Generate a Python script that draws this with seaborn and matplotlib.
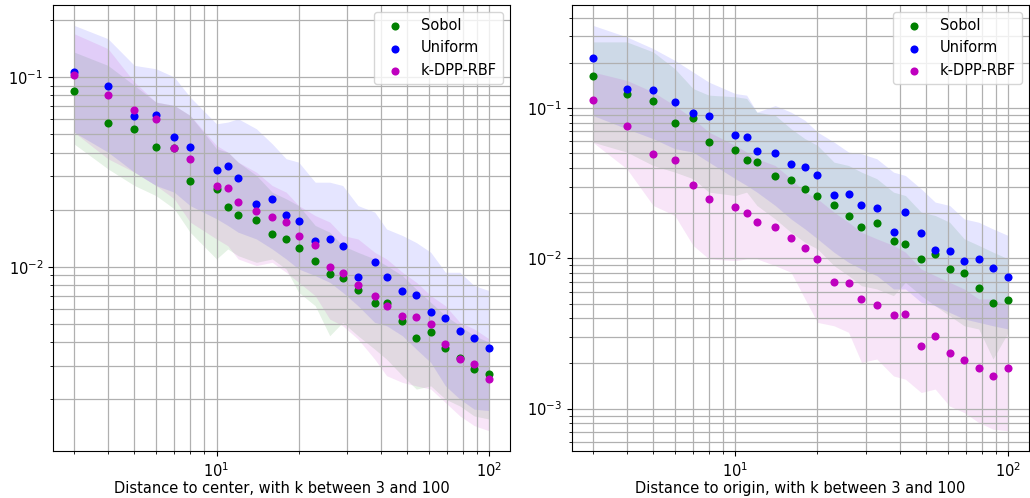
import matplotlib
matplotlib.use('Agg')
import matplotlib.pyplot as plt
import numpy as np
import pandas as pd
import seaborn as sns

# k values (number of points)
ks = [3, 4, 5, 6, 7, 8, 10, 11, 12, 14, 16, 18, 20, 23, 26, 29, 33, 38, 42, 48, 54, 61, 69, 78, 88, 100]
methods = ['Sobol', 'Uniform', 'k-DPP-RBF']
colors = {'Sobol': 'g', 'Uniform': 'b', 'k-DPP-RBF': 'm'}

# ---- distance to center ----
center_mean = {
    'Sobol': [0.084, 0.0574, 0.0531, 0.0430, 0.0425, 0.0284, 0.0257, 0.0207, 0.0188, 0.01766, 0.01493, 0.01406, 0.01259,
              0.01067, 0.00915, 0.00868, 0.00756, 0.0064, 0.00646, 0.00519, 0.00418, 0.0045, 0.00372, 0.0033, 0.00289, 0.00271],
    'Uniform': [0.106, 0.090, 0.0622, 0.0630, 0.0484, 0.0426, 0.0325, 0.0339, 0.0294, 0.0214, 0.0228, 0.01875, 0.0175,
                0.01371, 0.01399, 0.01291, 0.00885, 0.01055, 0.00883, 0.00746, 0.00708, 0.00578, 0.00533, 0.00455, 0.00422, 0.00372],
    'k-DPP-RBF': [0.103, 0.080, 0.0667, 0.0603, 0.0422, 0.0371, 0.0265, 0.0260, 0.0219, 0.0196, 0.01837, 0.01714, 0.01452,
                  0.01305, 0.0100, 0.00922, 0.0080, 0.0070, 0.0062, 0.0055, 0.00545, 0.0050, 0.00391, 0.00327, 0.00306, 0.00256],
}
center_upper = {
    'Sobol': [0.1357, 0.1153, 0.0904, 0.0738, 0.0709, 0.0628, 0.0419, 0.0402, 0.0356, 0.0303, 0.0247, 0.0228, 0.0210,
              0.0165, 0.0152, 0.0129, 0.0119, 0.01098, 0.01013, 0.00897, 0.0076, 0.00648, 0.00551, 0.00488, 0.00432, 0.00399],
    'Uniform': [0.1877, 0.1595, 0.1153, 0.1107, 0.1001, 0.0785, 0.0567, 0.0579, 0.0603, 0.0534, 0.0445, 0.0371, 0.0356,
                0.0279, 0.0279, 0.0268, 0.0210, 0.0194, 0.0158, 0.0146, 0.0134, 0.0119, 0.00934, 0.00934, 0.00794, 0.00747],
    'k-DPP-RBF': [0.1696, 0.1413, 0.0942, 0.0738, 0.0709, 0.0628, 0.0436, 0.0402, 0.0356, 0.0315, 0.0268, 0.0247, 0.0210,
                  0.0186, 0.0172, 0.0146, 0.0140, 0.0119, 0.01098, 0.00934, 0.00827, 0.00703, 0.00622, 0.00508, 0.00469, 0.00415],
}
center_lower = {
    'Sobol': [0.0445, 0.0328, 0.0268, 0.0237, 0.0202, 0.0152, 0.01098, 0.0124, 0.01143, 0.01054, 0.01098, 0.00972, 0.00732,
              0.00622, 0.00432, 0.00508, 0.00432, 0.00367, 0.00325, 0.00266, 0.00226, 0.00235, 0.0020, 0.00184, 0.00163, 0.00157],
    'Uniform': [0.0513, 0.0402, 0.0315, 0.0268, 0.0247, 0.0210, 0.0179, 0.0165, 0.0152, 0.0140, 0.0124, 0.01098, 0.00972,
                0.00897, 0.00827, 0.00732, 0.00622, 0.00508, 0.00488, 0.00432, 0.00367, 0.00312, 0.00235, 0.0020, 0.00177, 0.00174],
    'k-DPP-RBF': [0.0513, 0.0371, 0.0315, 0.0268, 0.0228, 0.0172, 0.0140, 0.0129, 0.01098, 0.01013, 0.01054, 0.00934, 0.00827,
                  0.00703, 0.00529, 0.00488, 0.00415, 0.00325, 0.00266, 0.00245, 0.00235, 0.00226, 0.00192, 0.00163, 0.00145, 0.00136],
}

# ---- distance to origin ----
origin_mean = {
    'Sobol': [0.1628, 0.1248, 0.1121, 0.0799, 0.0855, 0.0591, 0.0526, 0.0451, 0.0437, 0.0351, 0.0330, 0.0290, 0.0259,
              0.0228, 0.0191, 0.01612, 0.01714, 0.01314, 0.01242, 0.00992, 0.01076, 0.0085, 0.0080, 0.00639, 0.00502, 0.00531],
    'Uniform': [0.2168, 0.1334, 0.1313, 0.1103, 0.0928, 0.0881, 0.0658, 0.0642, 0.0520, 0.0504, 0.0428, 0.0405, 0.0358,
                0.0266, 0.0270, 0.0228, 0.0215, 0.01493, 0.0205, 0.01485, 0.01144, 0.01121, 0.00961, 0.00986, 0.00864, 0.00748],
    'k-DPP-RBF': [0.1138, 0.0764, 0.0492, 0.0451, 0.0307, 0.0250, 0.0221, 0.0201, 0.0175, 0.0162, 0.01361, 0.01168, 0.00986,
                  0.0070, 0.00686, 0.00537, 0.00487, 0.00422, 0.00426, 0.00262, 0.00306, 0.00235, 0.00211, 0.00186, 0.00166, 0.00186],
}
origin_upper = {
    'Sobol': [0.276, 0.276, 0.2365, 0.183, 0.135, 0.122, 0.119, 0.116, 0.094, 0.0895, 0.0729, 0.0626, 0.0565,
              0.0437, 0.0415, 0.0375, 0.0339, 0.0276, 0.0262, 0.0203, 0.0193, 0.0174, 0.0135, 0.0122, 0.0110, 0.00992],
    'Uniform': [0.356, 0.298, 0.249, 0.208, 0.174, 0.149, 0.125, 0.122, 0.094, 0.104, 0.094, 0.083, 0.0693,
                0.0594, 0.0510, 0.0497, 0.0460, 0.0375, 0.0356, 0.0290, 0.0237, 0.0225, 0.0183, 0.0174, 0.0157, 0.0142],
    'k-DPP-RBF': [0.174, 0.153, 0.128, 0.104, 0.085, 0.0693, 0.0565, 0.0510, 0.0460, 0.0415, 0.0339, 0.0276, 0.0249,
                  0.0203, 0.0174, 0.0149, 0.0135, 0.0122, 0.0110, 0.0085, 0.00768, 0.00693, 0.00626, 0.00537, 0.00537, 0.00484],
}
origin_lower = {
    'Sobol': [0.0594, 0.0510, 0.0415, 0.0375, 0.0339, 0.0276, 0.0262, 0.0276, 0.0225, 0.0183, 0.0149, 0.0128, 0.01156,
              0.00895, 0.00768, 0.00658, 0.00626, 0.00565, 0.00693, 0.00565, 0.00484, 0.00415, 0.00356, 0.00339, 0.00214, 0.00322],
    'Uniform': [0.0895, 0.0729, 0.0626, 0.0537, 0.0510, 0.0437, 0.0339, 0.0306, 0.0276, 0.0225, 0.0183, 0.0157, 0.0135,
                0.01098, 0.00942, 0.0085, 0.00768, 0.00626, 0.00626, 0.0051, 0.00484, 0.00437, 0.00395, 0.00375, 0.00356, 0.00339],
    'k-DPP-RBF': [0.0594, 0.0395, 0.0225, 0.0193, 0.0122, 0.00992, 0.00966, 0.00992, 0.00992, 0.00895, 0.00808, 0.00537, 0.00375,
                  0.00356, 0.00322, 0.00203, 0.00214, 0.00165, 0.00157, 0.00128, 0.00135, 0.00104, 0.000942, 0.000808, 0.00073, 0.000711],
}

panels = [
    (center_mean, center_lower, center_upper, 'Distance to center, with k between 3 and 100'),
    (origin_mean, origin_lower, origin_upper, 'Distance to origin, with k between 3 and 100'),
]

plt.rcParams['font.size'] = 10.5

fig, axes = plt.subplots(1, 2, figsize=(10.3, 4.98), dpi=100)
fig.subplots_adjust(left=0.0515, right=0.999, bottom=0.094, top=0.99, wspace=0.135)

for ax, (mean, lower, upper, xlabel) in zip(axes, panels):
    ax.set_xscale('log')
    ax.set_yscale('log')
    for m in methods:
        ax.fill_between(ks, lower[m], upper[m], color=colors[m], alpha=0.1, linewidth=0)
    for m in methods:
        df = pd.DataFrame({'k': ks, 'dist': mean[m]})
        sns.scatterplot(data=df, x='k', y='dist', color=colors[m], label=m,
                        s=34, linewidth=0, ax=ax, zorder=3)
    ax.grid(True, which='both', color='#b0b0b0', linewidth=0.9)
    ax.set_xlabel(xlabel, labelpad=1)
    ax.set_ylabel('')
    ax.legend(loc='upper right')

plt.savefig('out.png', dpi=100)
